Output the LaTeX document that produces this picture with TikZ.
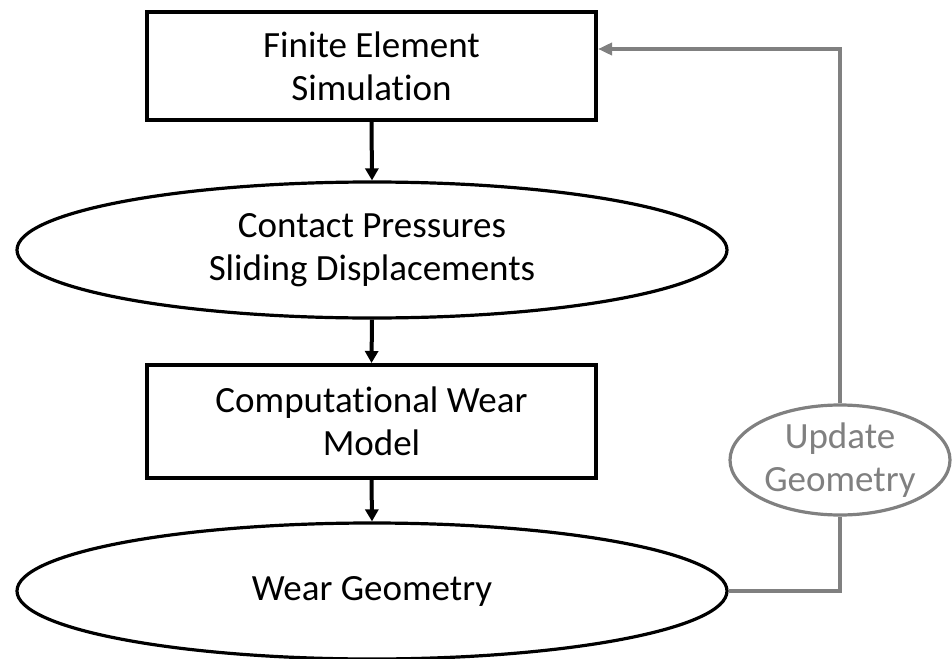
\documentclass[tikz,border=0pt]{standalone}
\usepackage{fontspec}
\setmainfont{Carlito}[Ligatures=NoCommon]
\usetikzlibrary{shapes.geometric,arrows.meta}
\begin{document}
\begin{tikzpicture}[x=1pt,y=-1pt,
  txt/.style={font=\fontsize{37}{43}\selectfont, align=center, inner sep=0pt},
  stepbox/.style={txt, draw=black, line width=4pt, rectangle,
    minimum width=449pt, minimum height=108pt},
  result/.style={txt, draw=black, line width=3.2pt, ellipse,
    minimum width=710pt, minimum height=136pt},
  flow/.style={draw=black, line width=4pt, -{Triangle[width=13pt,length=12pt]}},
  loop/.style={draw=gray, line width=3.5pt},
  loopnode/.style={txt, draw=gray, text=gray, line width=3.2pt, ellipse,
    minimum width=220pt, minimum height=110pt}]
  \useasboundingbox (0,0) rectangle (952,658);

  \node[stepbox] (fe) at (371.5,66) {Finite Element\\Simulation};
  \node[result] (cp) at (372,250) {Contact Pressures\\Sliding Displacements};
  \node[stepbox, minimum height=113pt] (cw) at (371.5,421.5) {Computational Wear\\Model};
  \node[result] (wg) at (372,591) {Wear Geometry};
  \node[loopnode] (upd) at (840,460) {Update\\Geometry};

  \draw[flow] (fe.south) -- (cp.north);
  \draw[flow] (cp.south) -- (cw.north);
  \draw[flow] (cw.south) -- (wg.north);

  % feedback loop back to the simulation
  \coordinate (low) at (840,591);
  \coordinate (top) at (840,49);
  \draw[loop] (wg.east) -- (low) -- (upd.south);
  \draw[loop, -{Triangle[width=12pt,length=14pt]}] (upd.north) -- (top) -- (top -| fe.east);
\end{tikzpicture}
\end{document}
